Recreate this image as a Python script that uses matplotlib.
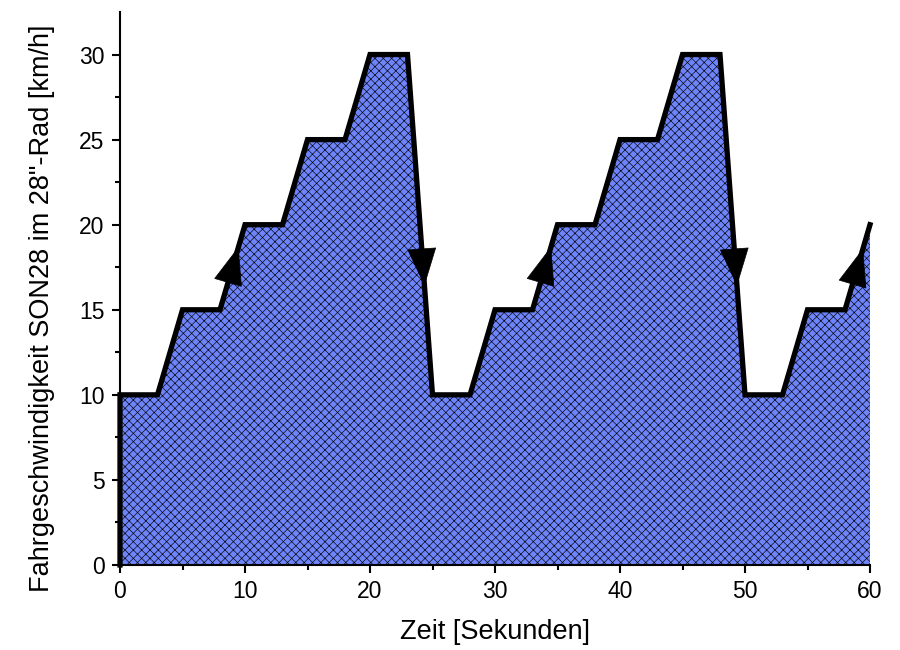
import matplotlib
matplotlib.use("Agg")
import matplotlib.pyplot as plt
import numpy as np

plt.rcParams['font.family'] = ['Liberation Sans', 'DejaVu Sans']
plt.rcParams['hatch.linewidth'] = 0.45

time_s = [0, 0, 3, 5, 8, 10, 13, 15, 18, 20, 23, 25, 28, 30, 33, 35, 38, 40, 43, 45, 48, 50, 53, 55, 58, 60]
speed_kmh = [0, 10, 10, 15, 15, 20, 20, 25, 25, 30, 30, 10, 10, 15, 15, 20, 20, 25, 25, 30, 30, 10, 10, 15, 15, 20]
# arrows: (segment start index, fraction along segment where the tip sits)
arrow_segments = [(4, 0.74), (10, 0.68), (14, 0.74), (20, 0.68), (24, 0.72)]

fig = plt.figure(figsize=(9, 6.5), dpi=100)
ax = fig.add_axes([120/900, 85/650, 750/900, 553/650])

x = np.array(time_s, float)
y = np.array(speed_kmh, float)
ax.fill_between(x, 0, y, facecolor='#6e84fa', edgecolor='black', hatch='xxxx', linewidth=0, zorder=1)
ax.plot(x, y, color='black', lw=3.8, solid_joinstyle='miter', zorder=3, clip_on=False)

for i, f in arrow_segments:
    x0, y0, x1, y1 = x[i], y[i], x[i+1], y[i+1]
    tx, ty = x0 + f*(x1-x0), y0 + f*(y1-y0)
    g = f - 0.3
    sx, sy = x0 + g*(x1-x0), y0 + g*(y1-y0)
    ax.annotate('', xy=(tx, ty), xytext=(sx, sy),
                arrowprops=dict(arrowstyle='-|>,head_length=1.3,head_width=0.5', color='black', lw=0.5,
                                mutation_scale=20, shrinkA=0, shrinkB=0), zorder=4)

ax.set_xlim(0, 60)
ax.set_ylim(0, 32.5)
ax.spines['top'].set_visible(False)
ax.spines['right'].set_visible(False)
for s in ['left', 'bottom']:
    ax.spines[s].set_linewidth(1.5)
ax.set_xticks(range(0, 61, 10))
ax.set_xticks(range(5, 60, 10), minor=True)
ax.set_yticks(range(0, 31, 5))
ax.set_yticks(np.arange(2.5, 32.5, 5), minor=True)
ax.tick_params(which='major', direction='out', length=6, width=1.5, labelsize=16.5, pad=5)
ax.tick_params(which='minor', direction='out', length=3.5, width=1.5)
ax.set_xlabel('Zeit [Sekunden]', fontsize=19.5)
ax.xaxis.set_label_coords(0.5, -0.097)
ax.set_ylabel('Fahrgeschwindigkeit SON28 im 28"-Rad [km/h]', fontsize=19.5)
ax.yaxis.set_label_coords(-0.087, 0.465)

fig.savefig('out.png', dpi=100)
